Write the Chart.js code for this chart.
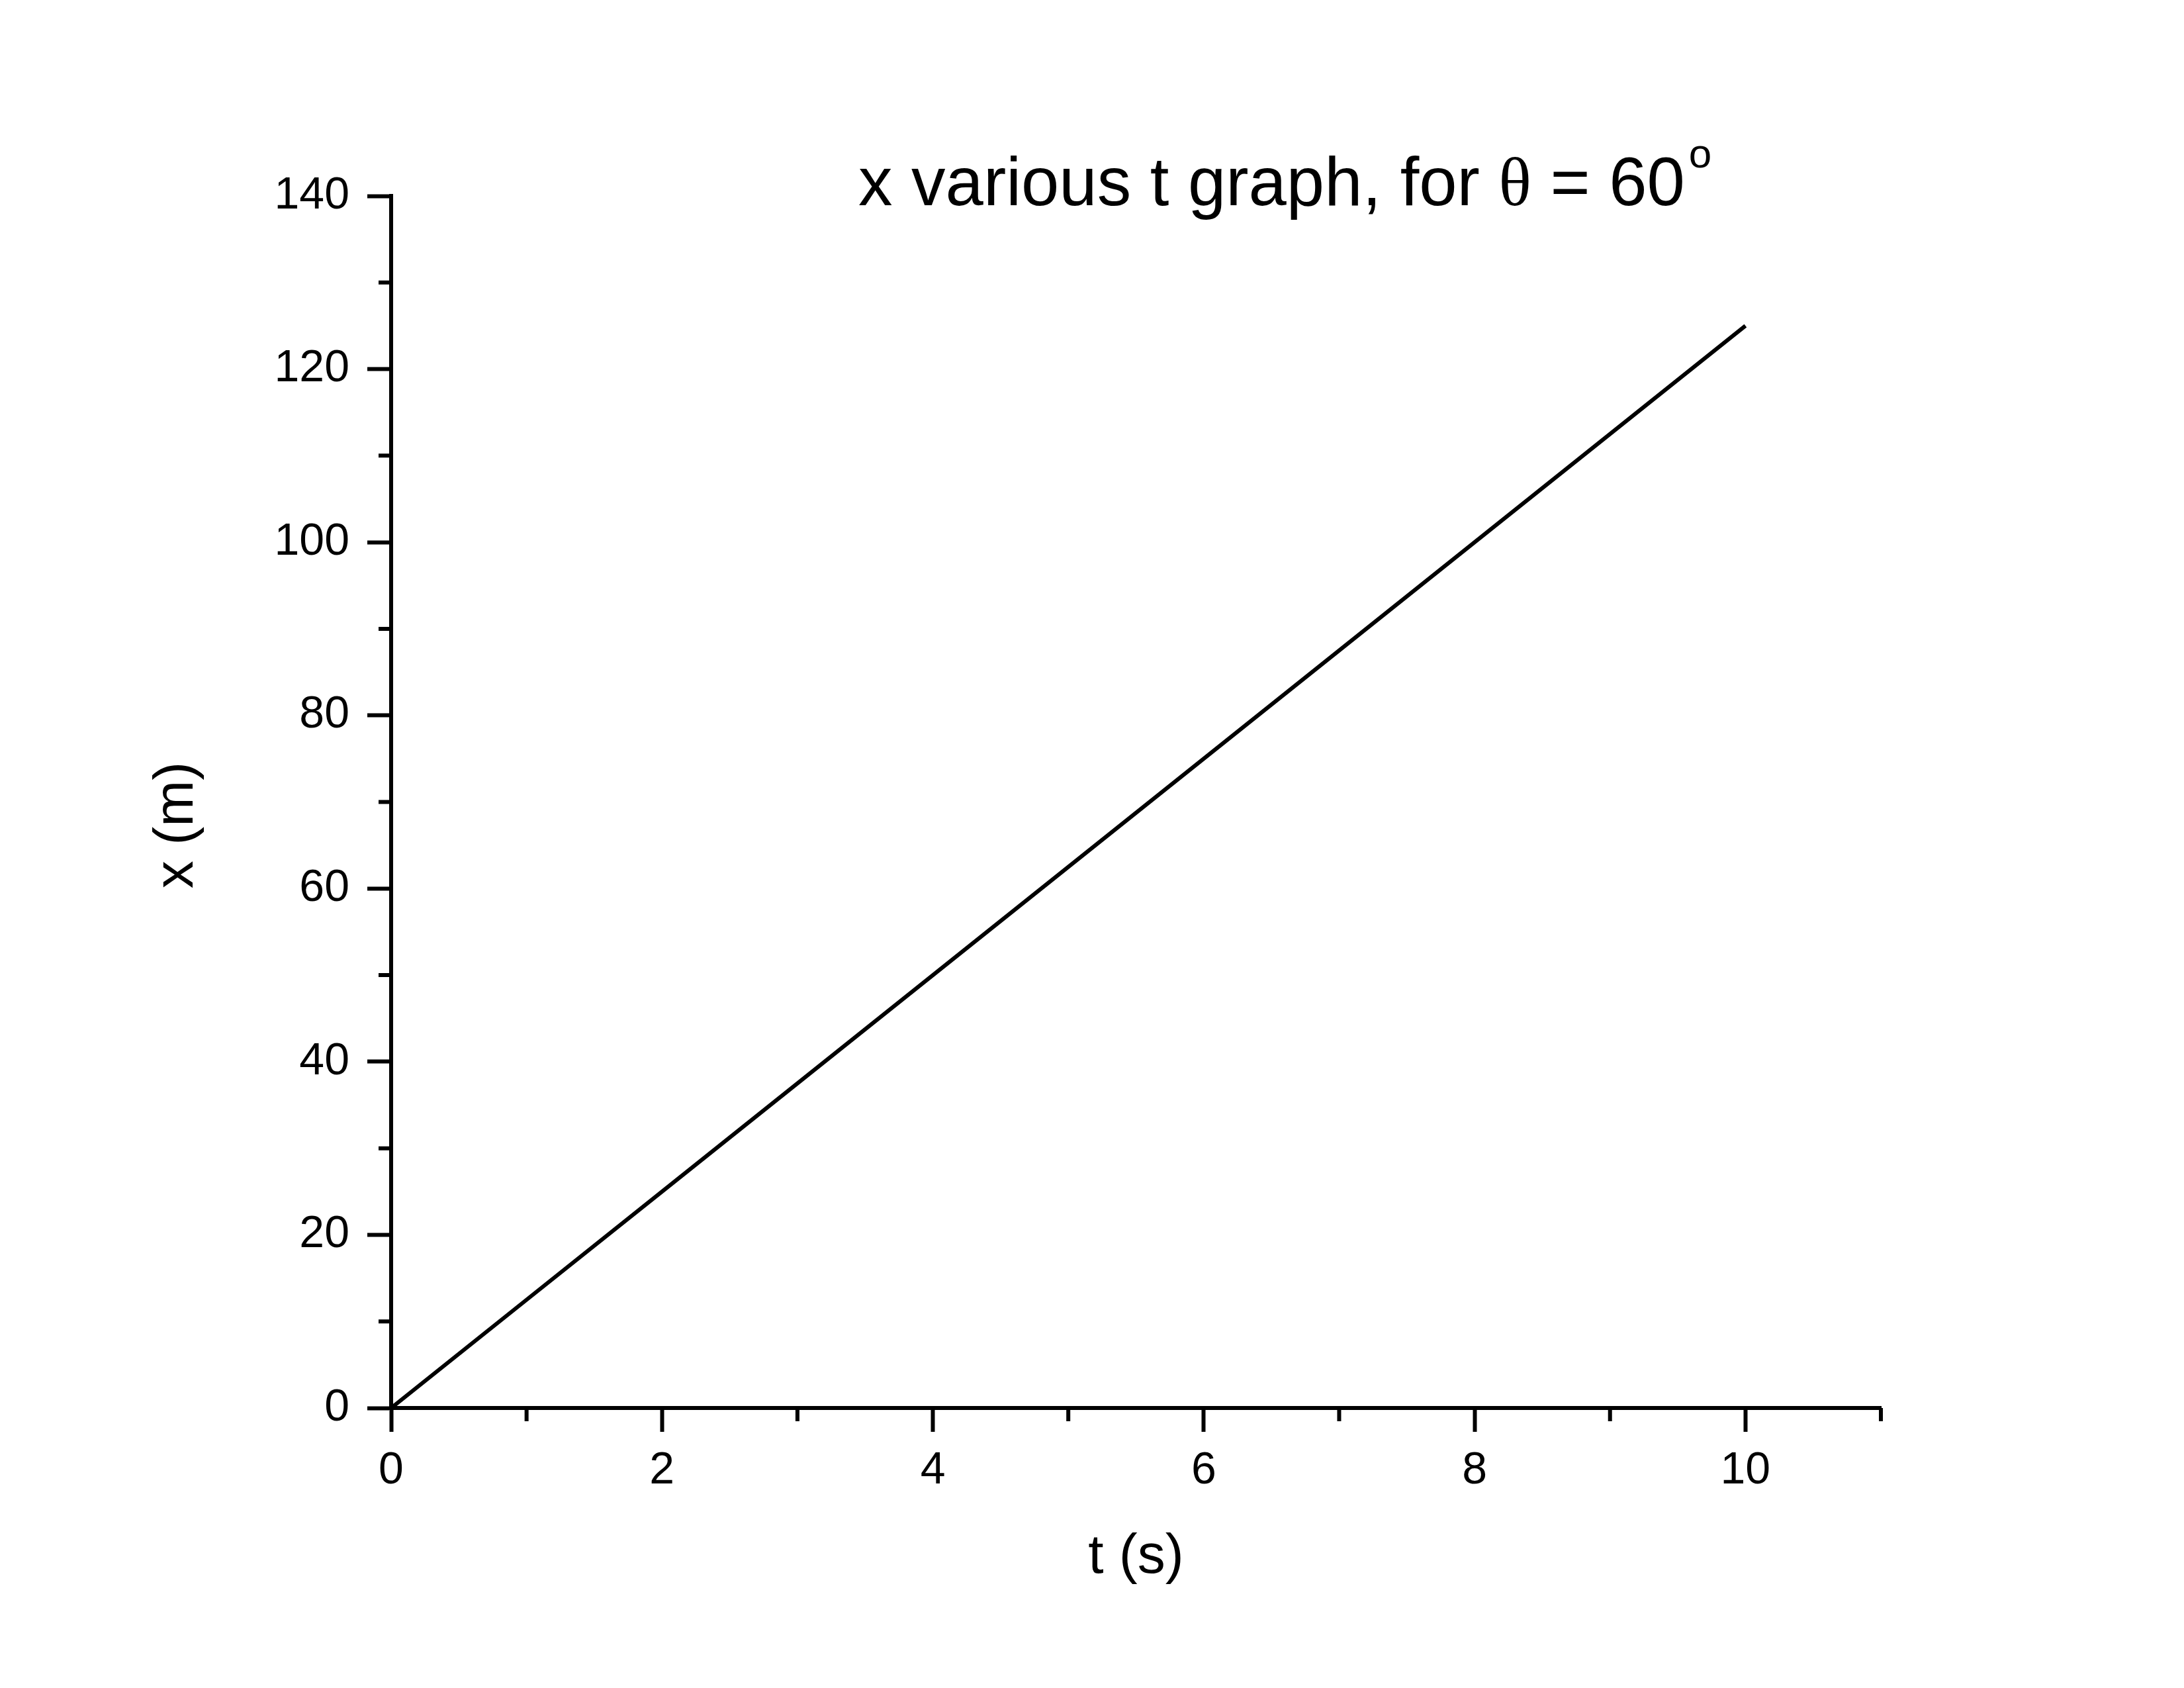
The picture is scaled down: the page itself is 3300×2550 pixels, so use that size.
<!DOCTYPE html>
<html>
<head>
<meta charset="utf-8">
<script src="https://cdn.jsdelivr.net/npm/chart.js@4.4.1/dist/chart.umd.min.js"></script>
<style>
  html, body { margin: 0; padding: 0; background: #fff; }
  canvas { display: block; }
</style>
</head>
<body>
<canvas id="xtChart" width="3300" height="2550" style="width:3300px;height:2550px"></canvas>
<script>
// x vs t, theta = 60 deg
const timeValues = [0, 1, 2, 3, 4, 5, 6, 7, 8, 9, 10];
const xValues = [0, 12.5, 25, 37.5, 50, 62.5, 75, 87.5, 100, 112.5, 125];
const xMinorTicks = [1, 3, 5, 7, 9, 11];
const yMinorTicks = [10, 30, 50, 70, 90, 110, 130];
const chartTitle = "x various t graph, for ";

const FONT = "'Liberation Sans', Arial, sans-serif";

// title with theta and a raised "o" for degrees
const titlePlugin = {
    id: "titlePlugin",
    afterDraw(chart) {
        const c = chart.ctx;
        c.save();
        c.fillStyle = "#000";
        c.textBaseline = "alphabetic";
        c.textAlign = "left";
        let x = 1297;
        const y = 310;
        c.font = "103px " + FONT;
        c.fillText(chartTitle, x, y);
        x += c.measureText(chartTitle).width;
        c.font = "103px 'Liberation Serif', serif";
        c.fillText("\u03b8", x, y);
        x += c.measureText("\u03b8").width;
        c.font = "103px " + FONT;
        c.fillText(" = 60", x, y);
        x += c.measureText(" = 60").width + 6;
        c.font = "62px " + FONT;
        c.fillText("o", x, 253);
        c.restore();
    }
};

// short minor ticks between the labelled ones
const minorTickPlugin = {
    id: "minorTicks",
    afterDraw(chart) {
        const c = chart.ctx;
        const xs = chart.scales.x, ys = chart.scales.y;
        c.save();
        c.strokeStyle = "#000";
        c.lineWidth = 6;
        c.beginPath();
        xMinorTicks.forEach(v => {
            const px = xs.getPixelForValue(v);
            c.moveTo(px, xs.top);
            c.lineTo(px, xs.top + 20);
        });
        yMinorTicks.forEach(v => {
            const py = ys.getPixelForValue(v);
            c.moveTo(ys.right, py);
            c.lineTo(ys.right - 19, py);
        });
        c.stroke();
        c.restore();
    }
};

const ctx = document.getElementById("xtChart").getContext("2d");
const xtChart = new Chart(ctx, {
    type: "line",
    data: {
        datasets: [{
            data: timeValues.map((t, i) => ({ x: t, y: xValues[i] })),
            borderColor: "#000",
            borderWidth: 6,
            pointRadius: 0,
            fill: false,
            tension: 0
        }]
    },
    options: {
        responsive: false,
        animation: false,
        layout: { padding: { left: 0, right: 458, top: 296, bottom: 0 } },
        plugins: {
            legend: { display: false },
            tooltip: { enabled: false }
        },
        scales: {
            x: {
                type: "linear",
                min: 0,
                max: 11,
                afterFit(scale) { scale.height = 423; },
                grid: { drawOnChartArea: false, drawTicks: true, tickLength: 36, tickWidth: 6, tickColor: "#000" },
                border: { display: true, width: 6, color: "#000" },
                ticks: {
                    stepSize: 2,
                    includeBounds: false,
                    padding: 18,
                    color: "#000",
                    font: { family: FONT, size: 68 },
                    maxRotation: 0
                },
                title: {
                    display: true,
                    text: "t (s)",
                    color: "#000",
                    font: { family: FONT, size: 84 },
                    padding: { top: 0, bottom: 147 }
                }
            },
            y: {
                min: 0,
                max: 140,
                afterFit(scale) { scale.width = 591; },
                grid: { drawOnChartArea: false, drawTicks: true, tickLength: 36, tickWidth: 6, tickColor: "#000" },
                border: { display: true, width: 6, color: "#000" },
                ticks: {
                    stepSize: 20,
                    padding: 27,
                    color: "#000",
                    font: { family: FONT, size: 68 }
                },
                title: {
                    display: true,
                    // trailing spaces nudge the rotated label down a little
                    text: "x (m)   ",
                    color: "#000",
                    font: { family: FONT, size: 84 },
                    padding: { top: 217, bottom: 0 }
                }
            }
        }
    },
    plugins: [titlePlugin, minorTickPlugin]
});
</script>
</body>
</html>
